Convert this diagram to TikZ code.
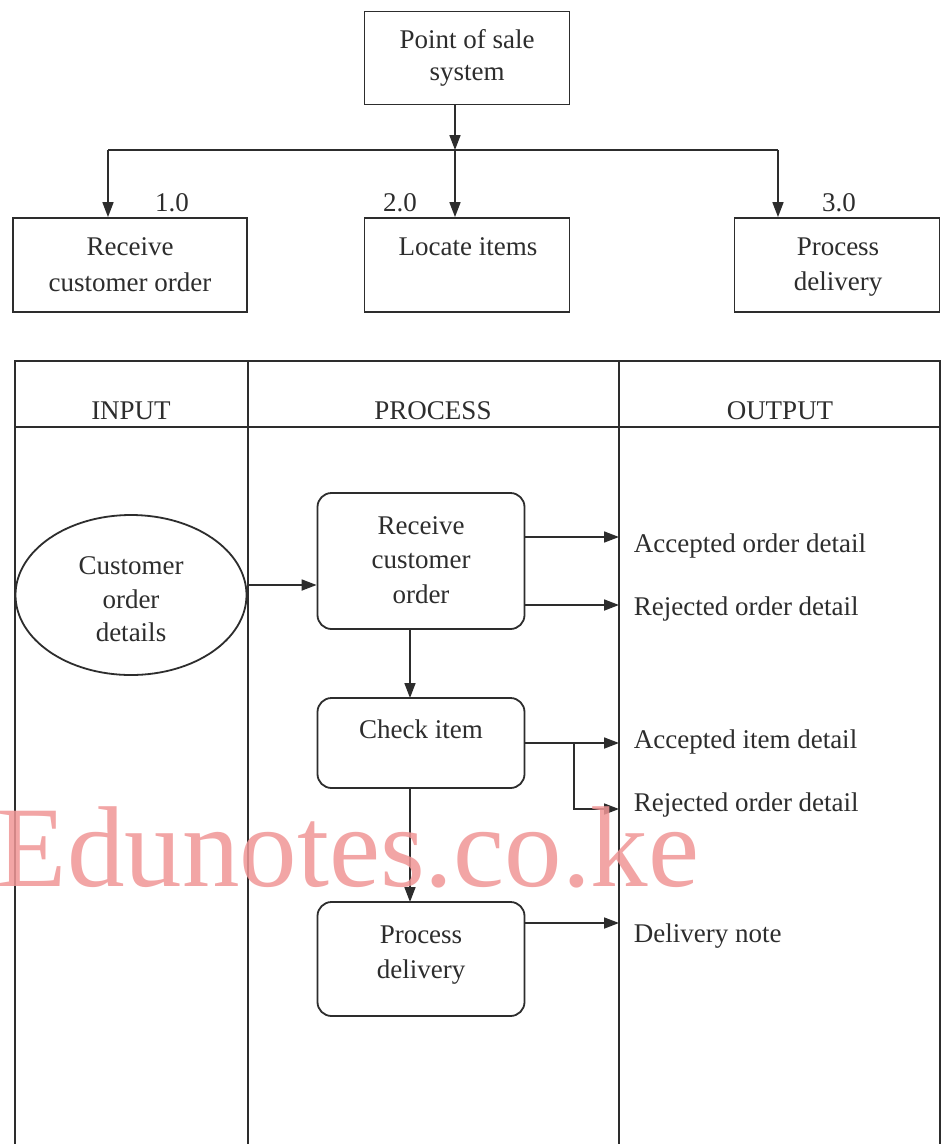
\documentclass[tikz,border=0pt]{standalone}
\usepackage{fontspec}
\setmainfont{Liberation Serif}
\usetikzlibrary{arrows.meta,shapes.geometric}
\definecolor{ink}{RGB}{45,45,45}
\definecolor{wmark}{RGB}{240,150,150}
\begin{document}
\begin{tikzpicture}[x=1pt,y=-1pt,
  line width=1.6pt, draw=ink,
  every node/.style={font=\fontsize{27}{32}\selectfont, text=ink},
  sqbox/.style={draw, rectangle, minimum width=205pt, line width=1.8pt},
  rbox/.style={draw, rectangle, rounded corners=14pt, minimum width=207pt, line width=1.8pt},
  arr/.style={-{Triangle[length=15pt,width=11pt]}, line width=1.7pt},
  lbl/.style={anchor=base west, inner sep=0pt},
  numlbl/.style={anchor=base, inner sep=0pt}
]
\useasboundingbox (0,0) rectangle (942,1144);
\fill[white] (0,0) rectangle (942,1144);

% top hierarchy
\node[sqbox, minimum height=93pt, align=center] (pos) at (467,58) {Point of sale\\system};
\node[sqbox, minimum width=234pt, minimum height=94pt] (b1) at (130,265) {};
\node[sqbox, minimum height=94pt] (b2) at (467,265) {};
\node[sqbox, minimum height=94pt] (b3) at (837,265) {};
\node[anchor=base, inner sep=0pt, align=center] (t1) at (130,255) {Receive};
\node[anchor=base, inner sep=0pt] (t1b) at (130,291) {customer order};
\node[anchor=base, inner sep=0pt] (t2) at (468,255) {Locate items};
\node[anchor=base, inner sep=0pt] (t3) at (838,255) {Process};
\node[anchor=base, inner sep=0pt] (t3b) at (838,290) {delivery};
\node[numlbl] (n1) at (172,211) {1.0};
\node[numlbl] (n2) at (400,211) {2.0};
\node[numlbl] (n3) at (839,211) {3.0};

\coordinate (hub) at (455,150);
\coordinate (hl) at (108,150);
\coordinate (hr) at (778,150);
\draw[arr] (pos.south -| hub) -- (hub);
\draw (hl) -- (hr);
\draw[arr] (hl) -- (hl |- b1.north);
\draw[arr] (hub) -- (hub |- b2.north);
\draw[arr] (hr) -- (hr |- b3.north);

% table
\draw[line width=1.8pt] (15,1144) -- (15,361) -- (940,361) -- (940,1144);
\draw[line width=1.8pt] (15,427) -- (940,427);
\draw[line width=1.6pt] (248,361) -- (248,1144);
\draw[line width=1.6pt] (619,361) -- (619,1144);
\node[anchor=base] (hin) at (131,419) {INPUT};
\node[anchor=base] (hpr) at (433,419) {PROCESS};
\node[anchor=base] (hout) at (780,419) {OUTPUT};

% input
\node[draw, ellipse, minimum width=231pt, minimum height=160pt, line width=1.8pt, align=center] (cod) at (131,595) {};
\node[anchor=base, inner sep=0pt] (c1) at (131,574) {Customer};
\node[anchor=base, inner sep=0pt] (c2) at (131,608) {order};
\node[anchor=base, inner sep=0pt] (c3) at (131,641) {details};

% process boxes
\node[rbox, minimum height=136pt] (rco) at (421,561) {};
\node[anchor=base, inner sep=0pt] (r1) at (421,534) {Receive};
\node[anchor=base, inner sep=0pt] (r2) at (421,568) {customer};
\node[anchor=base, inner sep=0pt] (r3) at (421,603) {order};
\node[rbox, minimum height=90pt] (chk) at (421,743) {};
\node[anchor=base, inner sep=0pt] (k1) at (421,738) {Check item};
\node[rbox, minimum height=114pt] (prd) at (421,959) {};
\node[anchor=base, inner sep=0pt] (p1) at (421,943) {Process};
\node[anchor=base, inner sep=0pt] (p2) at (421,978) {delivery};

\draw[arr] (cod.east |- 0,585) -- (rco.west |- 0,585);
\draw[arr] (410,629) -- (410,698);
\draw[arr] (410,788) -- (410,902);

% outputs
\coordinate (oa) at (619,537);
\coordinate (ob) at (619,605);
\coordinate (oc) at (619,743);
\coordinate (od) at (619,809);
\coordinate (oe) at (619,923);
\coordinate (br) at (574,743);
\draw[arr] (rco.east |- oa) -- (oa);
\draw[arr] (rco.east |- ob) -- (ob);
\draw[arr] (chk.east |- oc) -- (oc);
\draw[arr] (br) -- (br |- od) -- (od);
\draw[arr] (prd.east |- oe) -- (oe);
\node[lbl] (l1) at (633,552) {Accepted order detail};
\node[lbl] (l2) at (633,615) {Rejected order detail};
\node[lbl] (l3) at (633,748) {Accepted item detail};
\node[lbl] (l4) at (633,811) {Rejected order detail};
\node[lbl] (l5) at (633,942) {Delivery note};

% watermark
\node[anchor=base west, inner sep=0pt, font=\fontsize{115}{115}\selectfont, text=wmark, opacity=0.85] (wm) at (-4,886) {Edunotes.co.ke};
\end{tikzpicture}
\end{document}
